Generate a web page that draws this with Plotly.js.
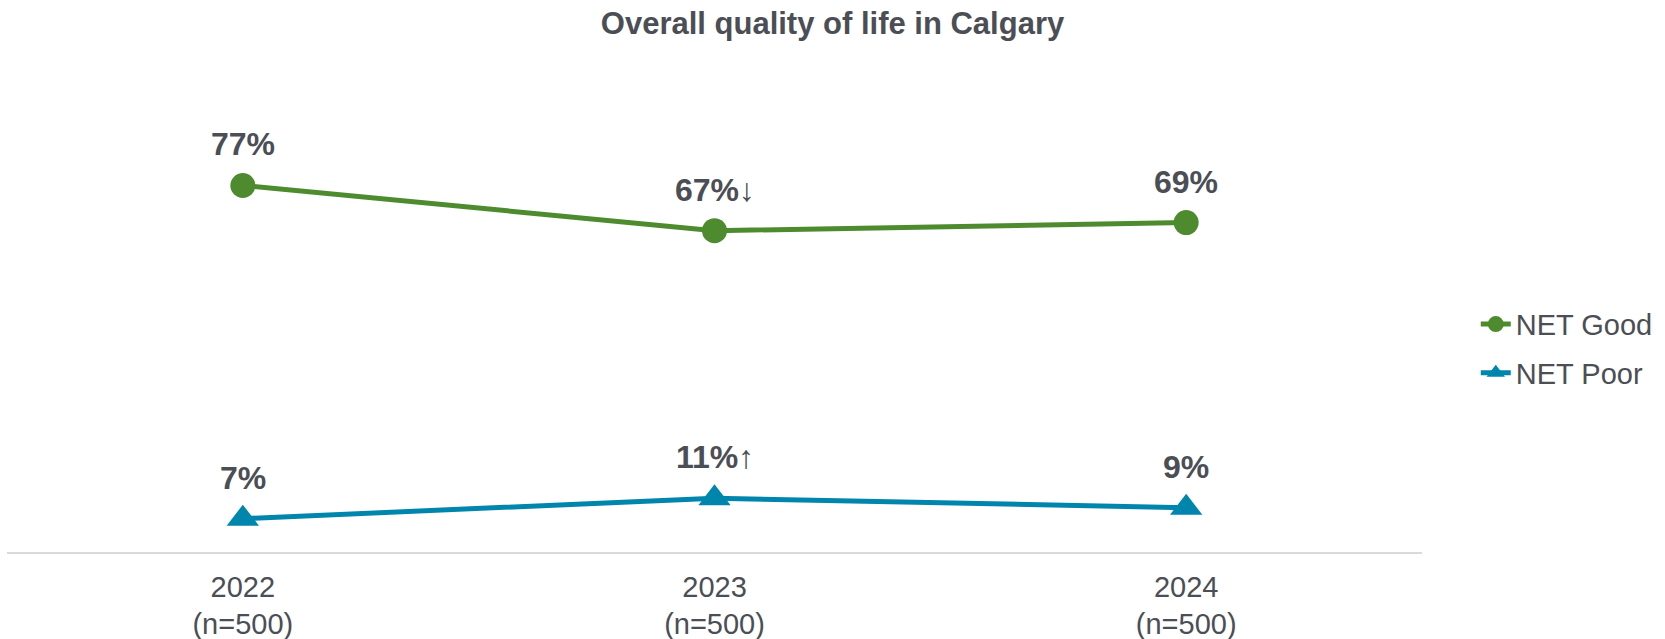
<!DOCTYPE html>
<html>
<head>
<meta charset="utf-8">
<script src="https://cdn.plot.ly/plotly-3.0.1.min.js"></script>
<style>
  body { margin: 0; background: #fff; }
  #chart { width: 1665px; height: 639px; }
</style>
</head>
<body>
<div id="chart"></div>
<script>
var years = ["2022<br>(n=500)", "2023<br>(n=500)", "2024<br>(n=500)"];
var goodValues = [77.0, 67.5, 69.2];
var poorValues = [7.0, 11.3, 9.3];
var goodLabels = ["77%", "67%<span style='font-weight:normal'>↓</span>", "69%"];
var poorLabels = ["7%", "11%<span style='font-weight:normal'>↑</span>", "9%"];

var textcol = "#4b4e55";
var fontfam = "Arial, 'Liberation Sans', sans-serif";

var goodtrace = {
  x: years,
  y: goodValues,
  mode: "lines+markers",
  name: "NET Good",
  legendgroup: "good",
  line: {color: "#4e8b2e", width: 5},
  marker: {symbol: "circle", size: 25, color: "#4e8b2e"},
  type: "scatter"
};

var poortrace = {
  x: years,
  y: poorValues,
  mode: "lines+markers",
  name: "NET Poor",
  legendgroup: "poor",
  line: {color: "#0086ad", width: 5},
  marker: {symbol: "triangle-up", size: 28, color: "#0086ad"},
  type: "scatter"
};

// value labels sit above each point
var labels = [];
function addlabels(vals, txts) {
  for (var i = 0; i < vals.length; i++) {
    labels.push({
      x: years[i],
      y: vals[i],
      text: "<b>" + txts[i] + "</b>",
      showarrow: false,
      yanchor: "middle",
      yshift: 41,
      font: {family: fontfam, size: 32, color: textcol}
    });
  }
}
addlabels(goodValues, goodLabels);
addlabels(poorValues, poorLabels);

var layout = {
  width: 1665,
  height: 639,
  margin: {l: 7, r: 243, t: 76, b: 86.5},
  paper_bgcolor: "#ffffff",
  plot_bgcolor: "#ffffff",
  font: {family: fontfam, color: textcol},
  title: {
    text: "<b>Overall quality of life in Calgary</b>",
    font: {family: fontfam, size: 31, color: textcol},
    xref: "container",
    x: 0.5,
    yref: "container",
    y: 1 - 23 / 639,
    yanchor: "middle"
  },
  xaxis: {
    type: "category",
    range: [-0.5, 2.5],
    showgrid: false,
    zeroline: false,
    showline: true,
    linecolor: "#d9d9d9",
    linewidth: 1.5,
    ticks: "",
    ticklabelstandoff: 8,
    tickfont: {family: fontfam, size: 29, color: textcol}
  },
  yaxis: {
    range: [0, 100],
    showgrid: false,
    zeroline: false,
    showline: false,
    showticklabels: false
  },
  legend: {
    x: 1.038,
    xanchor: "left",
    y: 0.427,
    yanchor: "middle",
    traceorder: "grouped",
    tracegroupgap: 8,
    font: {family: fontfam, size: 29, color: textcol},
    bgcolor: "rgba(0,0,0,0)"
  },
  annotations: labels
};

Plotly.newPlot("chart", [goodtrace, poortrace], layout, {displayModeBar: false});
</script>
</body>
</html>
